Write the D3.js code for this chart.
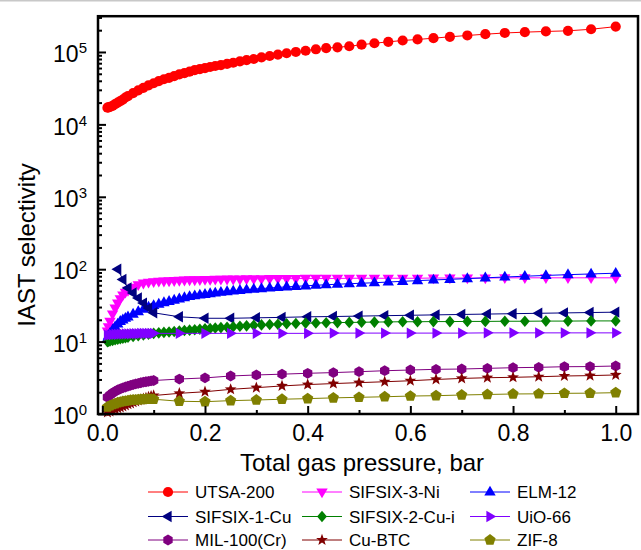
<!DOCTYPE html>
<html>
<head>
<meta charset="utf-8">
<title>IAST selectivity</title>
<script src="https://cdn.jsdelivr.net/npm/d3@7"></script>
<style>
  body { margin: 0; background: #fff; }
  svg { display: block; font-family: Arial, "Liberation Sans", sans-serif; }
  .axis text { font-size: 23px; fill: #000; }
  .axis line { stroke: #000; stroke-width: 2; }
  .axis path { display: none; }
  .legend text { font-size: 17px; fill: #000; }
</style>
</head>
<body>
<svg width="641" height="550"></svg>
<script>
// pressure grids, bar
var pFine = [0.01, 0.012, 0.015, 0.02, 0.025, 0.03, 0.035, 0.04, 0.045, 0.05,
  0.06, 0.07, 0.08, 0.09, 0.1, 0.11, 0.12, 0.13, 0.14, 0.15,
  0.16, 0.17, 0.18, 0.19, 0.2, 0.21, 0.22, 0.231, 0.243, 0.255,
  0.268, 0.281, 0.295, 0.31, 0.326, 0.342, 0.359, 0.377, 0.396, 0.416,
  0.436, 0.458, 0.481, 0.505, 0.53, 0.557, 0.585, 0.614, 0.645, 0.677,
  0.711, 0.746, 0.784, 0.823, 0.864, 0.907, 0.952, 1.0];
var pStep = [0.01, 0.015, 0.02, 0.025, 0.03, 0.035, 0.04, 0.045, 0.05, 0.055,
  0.06, 0.065, 0.07, 0.075, 0.08, 0.085, 0.09, 0.095, 0.1,
  0.15, 0.2, 0.25, 0.3, 0.35, 0.4, 0.45, 0.5, 0.55, 0.6,
  0.65, 0.7, 0.75, 0.8, 0.85, 0.9, 0.95, 1.0];
var pCu1 = [0.03, 0.04, 0.05, 0.06, 0.07, 0.08, 0.09, 0.1,
  0.15, 0.2, 0.25, 0.3, 0.35, 0.4, 0.45, 0.5, 0.55, 0.6,
  0.65, 0.7, 0.75, 0.8, 0.85, 0.9, 0.95, 1.0];

// selectivities
var utsa200 = [17000, 17200, 17500, 18000, 19000, 20000, 21000, 22000, 23500, 24500,
  27000, 29500, 32000, 34500, 37000, 39500, 42000, 44000, 46500, 49000,
  51000, 53500, 56000, 58000, 60000, 62000, 64000, 66000, 68500, 71000,
  74000, 77000, 80000, 84000, 88000, 92000, 96000, 100000, 104000, 109000,
  113000, 116000, 120000, 126000, 132000, 138000, 144000, 149000, 155000, 162000,
  169000, 176000, 183000, 188000, 192000, 196000, 206000, 224000];
var sifsix3Ni = [14, 16, 19, 24, 29, 34, 39, 44, 48, 51,
  56, 61, 64, 66, 67, 68, 68.5, 69, 69.5, 70,
  70.5, 71, 71, 71.5, 72, 72, 72.5, 72.5, 73, 73,
  73, 73.5, 73.5, 73.5, 74, 74, 74, 74, 74.5, 74.5,
  74.5, 74.5, 75, 75, 75, 75, 75, 75, 75.5, 75.5,
  75.5, 75.5, 76, 76, 76, 76, 76, 76];
var elm12 = [11, 12, 13, 14.5, 16, 17.5, 19, 20, 21, 22,
  24, 26, 28, 30, 31.5, 33, 34.5, 36, 37.5, 39,
  40.5, 42, 43, 44, 45, 46, 47, 48, 49, 50,
  51, 52, 53, 54, 55, 56, 57, 58, 59, 60,
  61, 62, 63, 64, 65, 66.5, 68, 69.5, 71, 72.5,
  74, 76, 78, 80, 82, 84, 86, 88];
var sifsix1Cu = [100, 72, 55, 47, 40, 34, 29, 25,
  22, 21, 21, 21.3, 21.6, 22, 22.2, 22.5, 22.8, 23.1,
  23.4, 23.7, 24, 24.3, 24.6, 24.9, 25.2, 25.5];
var sifsix2Cui = [10, 10.1, 10.2, 10.4, 10.6, 10.8, 11, 11.1, 11.3, 11.5,
  11.8, 12.1, 12.4, 12.7, 13, 13.2, 13.4, 13.6, 13.8, 14,
  14.2, 14.4, 14.6, 14.8, 15, 15.2, 15.4, 15.6, 15.8, 16,
  16.3, 16.5, 16.8, 17, 17.2, 17.4, 17.6, 17.8, 18, 18.1,
  18.2, 18.3, 18.4, 18.5, 18.6, 18.7, 18.8, 18.8, 18.9, 18.9,
  19, 19, 19.1, 19.1, 19.2, 19.2, 19.3, 19.3];
var uio66 = [12.3, 12.4, 12.5, 12.6, 12.6, 12.7, 12.7, 12.8, 12.8, 12.8,
  12.9, 12.9, 12.9, 13, 13, 13, 13, 13, 13,
  13, 13, 13, 13, 13, 13, 13.1, 13.1, 13.1, 13.1,
  13.1, 13.1, 13.2, 13.2, 13.2, 13.2, 13.2, 13.2];
var mil100 = [1.7, 1.83, 1.95, 2.05, 2.15, 2.23, 2.3, 2.36, 2.42, 2.49,
  2.55, 2.6, 2.65, 2.7, 2.75, 2.79, 2.83, 2.87, 2.9,
  3.04, 3.15, 3.35, 3.46, 3.55, 3.65, 3.73, 3.84, 3.96, 4.05,
  4.14, 4.18, 4.27, 4.36, 4.41, 4.5, 4.52, 4.6];
var cuBTC = [1.05, 1.08, 1.12, 1.16, 1.2, 1.23, 1.27, 1.31, 1.36, 1.4,
  1.45, 1.49, 1.54, 1.58, 1.63, 1.67, 1.72, 1.76, 1.8,
  1.93, 2.03, 2.19, 2.31, 2.44, 2.55, 2.63, 2.71, 2.79, 2.88,
  3.0, 3.1, 3.17, 3.21, 3.27, 3.35, 3.39, 3.46];
var zif8 = [1.25, 1.3, 1.35, 1.39, 1.43, 1.46, 1.49, 1.51, 1.53, 1.55,
  1.56, 1.57, 1.58, 1.59, 1.59, 1.6, 1.6, 1.6, 1.6,
  1.5, 1.48, 1.53, 1.56, 1.6, 1.63, 1.67, 1.7, 1.73, 1.77,
  1.79, 1.83, 1.86, 1.89, 1.9, 1.93, 1.94, 1.97];

var xTicks = [0, 0.2, 0.4, 0.6, 0.8, 1.0];
var xMinor = [0.1, 0.3, 0.5, 0.7, 0.9];
var yTicks = [1, 10, 100, 1000, 10000, 100000];

// marker outlines, unit radius
function poly(pts) {
  return {
    draw: function(ctx, size) {
      var r = Math.sqrt(size);
      ctx.moveTo(pts[0][0] * r, pts[0][1] * r);
      for (var i = 1; i < pts.length; i++) ctx.lineTo(pts[i][0] * r, pts[i][1] * r);
      ctx.closePath();
    }
  };
}
var shapes = {
  circle: { draw: function(ctx, size) { var r = Math.sqrt(size); ctx.moveTo(r, 0); ctx.arc(0, 0, r, 0, 2 * Math.PI); } },
  up: poly([[0, -1.05], [0.95, 0.6], [-0.95, 0.6]]),
  down: poly([[0, 1.05], [0.95, -0.6], [-0.95, -0.6]]),
  left: poly([[-1.05, 0], [0.6, -0.95], [0.6, 0.95]]),
  right: poly([[1.05, 0], [-0.6, -0.95], [-0.6, 0.95]]),
  diamond: poly([[0, -1], [0.85, 0], [0, 1], [-0.85, 0]]),
  hexagon: poly([[0, -1], [0.866, -0.5], [0.866, 0.5], [0, 1], [-0.866, 0.5], [-0.866, -0.5]]),
  star: poly([[0, -1], [0.247, -0.34], [0.951, -0.309], [0.399, 0.13], [0.588, 0.809],
    [0, 0.42], [-0.588, 0.809], [-0.399, 0.13], [-0.951, -0.309], [-0.247, -0.34]]),
  pentagon: poly([[0, -1], [0.951, -0.309], [0.588, 0.809], [-0.588, 0.809], [-0.951, -0.309]])
};

var series = [
  {name: "UTSA-200", xs: pFine, ys: utsa200, color: "#ff0000", shape: "circle", r: 5.1},
  {name: "SIFSIX-3-Ni", xs: pFine, ys: sifsix3Ni, color: "#ff00ff", shape: "down", r: 6},
  {name: "ELM-12", xs: pFine, ys: elm12, color: "#0000ff", shape: "up", r: 6},
  {name: "SIFSIX-1-Cu", xs: pCu1, ys: sifsix1Cu, color: "#000080", shape: "left", r: 6},
  {name: "SIFSIX-2-Cu-i", xs: pFine, ys: sifsix2Cui, color: "#008000", shape: "diamond", r: 5.8},
  {name: "UiO-66", xs: pStep, ys: uio66, color: "#8000ff", shape: "right", r: 6},
  {name: "MIL-100(Cr)", xs: pStep, ys: mil100, color: "#800080", shape: "hexagon", r: 5.4},
  {name: "Cu-BTC", xs: pStep, ys: cuBTC, color: "#800000", shape: "star", r: 6.2},
  {name: "ZIF-8", xs: pStep, ys: zif8, color: "#808000", shape: "pentagon", r: 5.9}
];

var svg = d3.select("svg");
svg.append("rect").attr("width", 641).attr("height", 550).attr("fill", "#fff");
svg.append("line").attr("x1", 0).attr("x2", 641).attr("y1", 0.75).attr("y2", 0.75)
    .attr("stroke", "#c8c8c8").attr("stroke-width", 1.5);

var x = d3.scaleLinear().domain([-0.0084, 1.0434]).range([98, 638]),
    y = d3.scaleLog().domain([1, 3.12e5]).range([414, 16.2]);

var line = d3.line()
    .x(function(d) { return x(d[0]); })
    .y(function(d) { return y(d[1]); });

series.forEach(function(s) {
  var pts = s.xs.map(function(p, i) { return [p, s.ys[i]]; });
  var g = svg.append("g");
  g.append("path")
      .attr("d", line(pts))
      .attr("fill", "none")
      .attr("stroke", s.color)
      .attr("stroke-width", 1);
  g.selectAll("path.m")
    .data(pts)
    .enter().append("path")
      .attr("class", "m")
      .attr("transform", function(d) { return "translate(" + x(d[0]) + "," + y(d[1]) + ")"; })
      .attr("d", d3.symbol().type(shapes[s.shape]).size(s.r * s.r))
      .attr("fill", s.color);
});

// axes
var yMinor = [];
[1, 10, 100, 1000, 10000, 100000].forEach(function(dec) {
  for (var k = 2; k <= 9; k++) if (dec * k < 3.12e5) yMinor.push(dec * k);
});

svg.append("g")
    .attr("class", "axis")
    .attr("transform", "translate(0,414)")
    .call(d3.axisBottom(x).tickValues(xMinor).tickSize(-4).tickFormat(""));
svg.append("g")
    .attr("class", "axis")
    .attr("transform", "translate(0,414)")
    .call(d3.axisBottom(x).tickValues(xTicks).tickSize(-8).tickPadding(11).tickFormat(d3.format(".1f")));

svg.append("g")
    .attr("class", "axis")
    .attr("transform", "translate(98,0)")
    .call(d3.axisLeft(y).tickValues(yMinor).tickSize(-4).tickFormat(""));
var yAxis = svg.append("g")
    .attr("class", "axis")
    .attr("transform", "translate(98,0)")
    .call(d3.axisLeft(y).tickValues(yTicks).tickSize(-8).tickPadding(11));
yAxis.selectAll(".tick text")
    .attr("dy", "0.42em")
    .each(function(d) {
      var t = d3.select(this).text("");
      t.append("tspan").text("10");
      t.append("tspan").attr("dy", -8.7).style("font-size", "15px").text(Math.round(Math.log10(d)));
    });

svg.append("rect")
    .attr("x", 98).attr("y", 16.2)
    .attr("width", 540).attr("height", 397.8)
    .attr("fill", "none").attr("stroke", "#000").attr("stroke-width", 2.5);

svg.append("text")
    .attr("x", 362).attr("y", 471)
    .attr("text-anchor", "middle")
    .style("font-size", "24px")
    .text("Total gas pressure, bar");
svg.append("text")
    .attr("transform", "translate(35,245) rotate(-90)")
    .attr("text-anchor", "middle")
    .style("font-size", "24px")
    .text("IAST selectivity");

// legend, 3 columns
var colX = [148, 302, 470],
    rowY = [492, 516.5, 540];
var legend = svg.append("g").attr("class", "legend");
series.forEach(function(s, i) {
  var lx = colX[i % 3], ly = rowY[Math.floor(i / 3)];
  var g = legend.append("g").attr("transform", "translate(" + lx + "," + ly + ")");
  g.append("line").attr("x1", 0).attr("x2", 40).attr("y1", 0).attr("y2", 0)
      .attr("stroke", s.color).attr("stroke-width", 1);
  g.append("path")
      .attr("transform", "translate(20,0)")
      .attr("d", d3.symbol().type(shapes[s.shape]).size(s.r * s.r))
      .attr("fill", s.color);
  g.append("text").attr("x", 47).attr("y", 6.1).text(s.name);
});
</script>
</body>
</html>
